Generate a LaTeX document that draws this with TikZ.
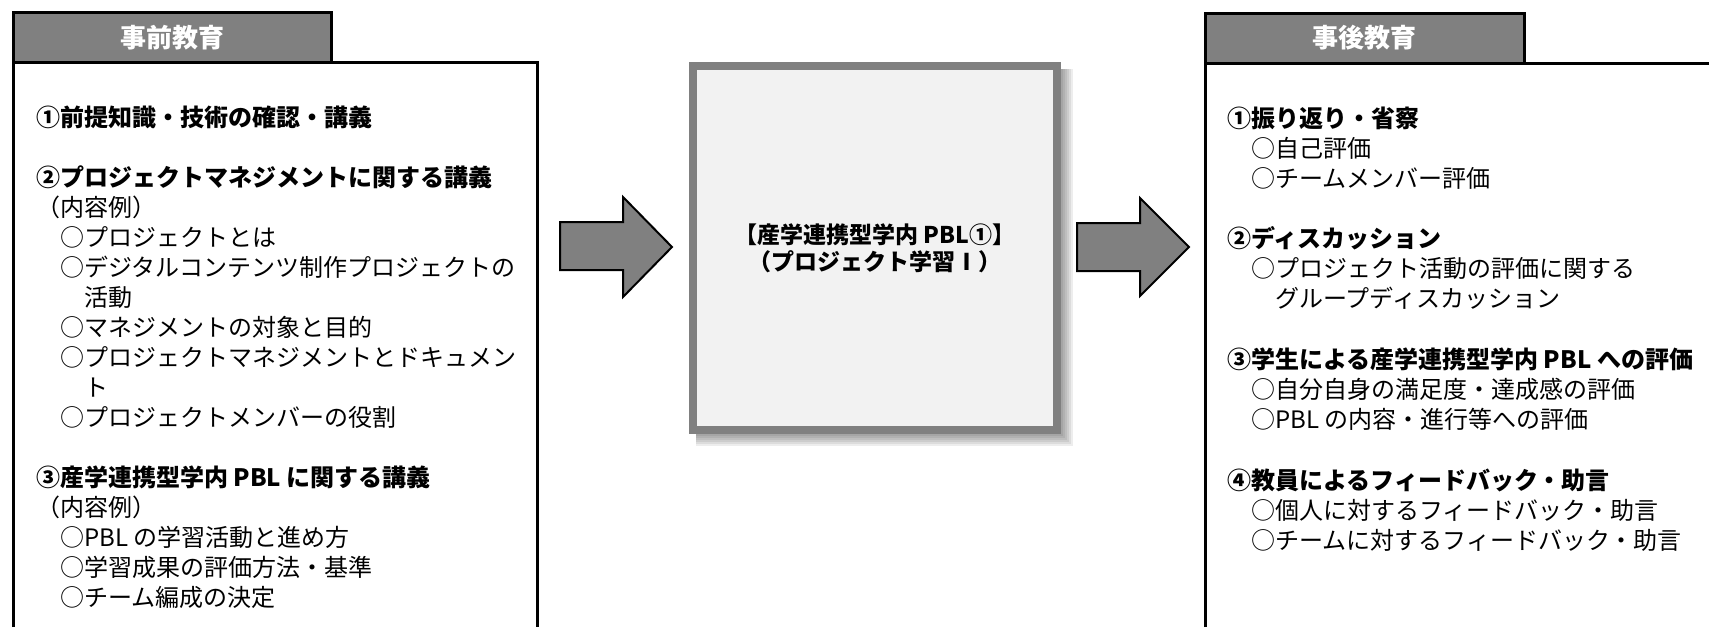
\documentclass[tikz,border=0pt]{standalone}
\usepackage{fontspec}
\setmainfont{Noto Sans CJK JP}
\definecolor{tabgray}{HTML}{808080}
\definecolor{boxfill}{HTML}{F2F2F2}
\begin{document}
\begin{tikzpicture}[x=1pt,y=-1pt,
  tabbox/.style={draw=black, line width=3pt, fill=tabgray, text=white,
    font=\fontsize{26}{30}\selectfont\bfseries, inner sep=0pt},
  hd/.style={anchor=base west, inner sep=0pt, font=\fontsize{24}{30}\selectfont\bfseries},
  it/.style={anchor=base west, inner sep=0pt, font=\fontsize{24}{30}\selectfont},
  frame/.style={draw=black, line width=3pt},
  blockarrow/.style={draw=black, line width=2pt, fill=tabgray, line join=miter},
]
\useasboundingbox (0,0) rectangle (1709,627);

% ---------------- left box ----------------
\draw[frame] (13,627) -- (13,62) -- (537,62) -- (537,627);
\node[tabbox, minimum width=318pt, minimum height=50pt] (ltab) at (172,37.5) {事前教育};

\node[hd] (l0)  at (36,126) {①前提知識・技術の確認・講義};
\node[hd] (l2)  at (36,186) {②プロジェクトマネジメントに関する講義};
\node[it] (l3)  at (36,216) {（内容例）};
\node[it] (l4)  at (60,246) {○プロジェクトとは};
\node[it] (l5)  at (60,276) {○デジタルコンテンツ制作プロジェクトの};
\node[it] (l6)  at (84,306) {活動};
\node[it] (l7)  at (60,336) {○マネジメントの対象と目的};
\node[it] (l8)  at (60,366) {○プロジェクトマネジメントとドキュメン};
\node[it] (l9)  at (84,396) {ト};
\node[it] (l10) at (60,426) {○プロジェクトメンバーの役割};
\node[hd] (l12) at (36,486) {③産学連携型学内 PBL に関する講義};
\node[it] (l13) at (36,516) {（内容例）};
\node[it] (l14) at (60,546) {○PBL の学習活動と進め方};
\node[it] (l15) at (60,576) {○学習成果の評価方法・基準};
\node[it] (l16) at (60,606) {○チーム編成の決定};

% ---------------- arrows ----------------
\draw[blockarrow] (560,222) -- (623,222) -- (623,197) -- (672,247) -- (623,297) -- (623,270) -- (560,270) -- cycle;
\draw[blockarrow] (1077,223) -- (1140,223) -- (1140,198) -- (1189,247) -- (1140,296) -- (1140,271) -- (1077,271) -- cycle;

% ---------------- center box ----------------
\foreach \r in {2,4,...,12}
  \fill[black, opacity=0.07] (696,69) rectangle (1061+\r,434+\r);
\node[draw=tabgray, line width=8pt, fill=boxfill, minimum width=364pt, minimum height=364pt,
  align=center, inner sep=0pt, font=\fontsize{23}{27}\selectfont\bfseries] (pbl) at (875,248)
  {【産学連携型学内 PBL①】\\（プロジェクト学習Ⅰ）};

% ---------------- right box ----------------
\draw[frame] (1205,627) -- (1205,63) -- (1709,63);
\node[tabbox, minimum width=319pt, minimum height=50pt] (rtab) at (1364.5,38) {事後教育};

\node[hd] (r0)  at (1227,127) {①振り返り・省察};
\node[it] (r1)  at (1251,157) {○自己評価};
\node[it] (r2)  at (1251,187) {○チームメンバー評価};
\node[hd] (r4)  at (1227,247) {②ディスカッション};
\node[it] (r5)  at (1251,277) {○プロジェクト活動の評価に関する};
\node[it] (r6)  at (1275,307) {グループディスカッション};
\node[hd] (r8)  at (1227,368) {③学生による産学連携型学内 PBL への評価};
\node[it] (r9)  at (1251,398) {○自分自身の満足度・達成感の評価};
\node[it] (r10) at (1251,428) {○PBL の内容・進行等への評価};
\node[hd] (r12) at (1227,489) {④教員によるフィードバック・助言};
\node[it] (r13) at (1251,519) {○個人に対するフィードバック・助言};
\node[it] (r14) at (1251,549) {○チームに対するフィードバック・助言};
\end{tikzpicture}
\end{document}
